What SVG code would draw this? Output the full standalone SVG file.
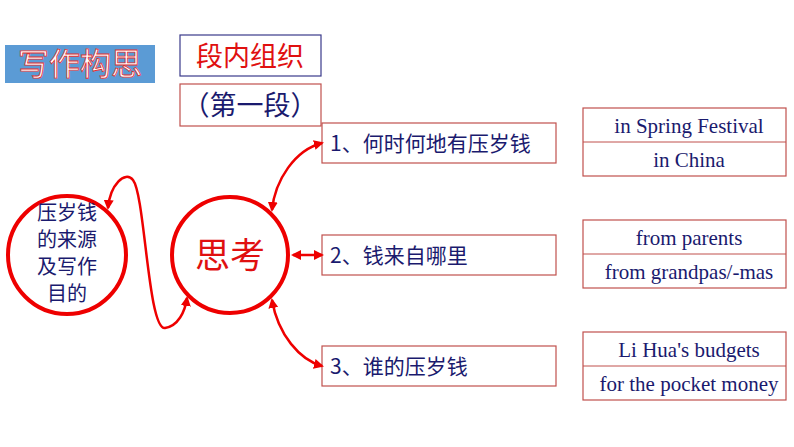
<svg xmlns="http://www.w3.org/2000/svg" width="794" height="447" viewBox="0 0 794 447">
<style>
.cn{font-family:"Noto Sans CJK SC",sans-serif}
.en{font-family:"Liberation Serif",serif;font-size:21px;fill:#1a1a6e;text-anchor:middle}
.box{fill:#fff;stroke:#c0504d;stroke-width:1.2}
.c{stroke:#e00;stroke-width:2.5;fill:none}
</style>
<defs><marker id="a" viewBox="0 0 10 10" refX="8" refY="5" markerWidth="4" markerHeight="4" orient="auto-start-reverse"><path d="M0,0L10,5L0,10z" fill="#e00"/></marker></defs>
<rect width="794" height="447" fill="#fff"/>
<g id="title"><rect x="5" y="45" width="150" height="38" fill="#5b9bd5"/><text x="80" y="75" text-anchor="middle" class="cn" font-size="31" fill="#fff" stroke="#e03030" stroke-width="0.8">写作构思</text></g>
<g id="org"><rect x="180" y="35" width="141" height="41" fill="#fff" stroke="#3a3a8a" stroke-width="1.2"/><text x="250" y="66" text-anchor="middle" class="cn" font-size="27" fill="#e01010">段内组织</text></g>
<g id="para"><rect x="180" y="84" width="141" height="42" class="box"/><text x="250" y="115" text-anchor="middle" class="cn" font-size="27" fill="#1a1a6e">（第一段）</text></g>
<g id="left"><circle cx="67" cy="255" r="59" fill="#fff" stroke="#e00" stroke-width="4"/>
<text class="cn" font-size="20" fill="#1a1a6e" text-anchor="middle"><tspan x="67" y="220">压岁钱</tspan><tspan x="67" y="247">的来源</tspan><tspan x="67" y="274">及写作</tspan><tspan x="67" y="301">目的</tspan></text></g>
<g id="think"><circle cx="230" cy="255" r="58" fill="#fff" stroke="#e00" stroke-width="4"/><text x="230" y="268" text-anchor="middle" class="cn" font-size="35" fill="#e01010">思考</text></g>
<g id="q1"><rect x="322" y="123" width="234" height="40" class="box"/><text x="330" y="151" class="cn" font-size="21" fill="#1a1a6e">1、何时何地有压岁钱</text></g>
<g id="q2"><rect x="322" y="235" width="234" height="40" class="box"/><text x="330" y="263" class="cn" font-size="21" fill="#1a1a6e">2、钱来自哪里</text></g>
<g id="q3"><rect x="322" y="346" width="234" height="40" class="box"/><text x="330" y="374" class="cn" font-size="21" fill="#1a1a6e">3、谁的压岁钱</text></g>
<g id="a1"><rect x="583" y="108" width="203" height="68" class="box"/><line x1="583" y1="142" x2="786" y2="142" stroke="#c0504d"/><text x="689" y="133" class="en">in Spring Festival</text><text x="689" y="167" class="en">in China</text></g>
<g id="a2"><rect x="583" y="220" width="203" height="68" class="box"/><line x1="583" y1="254" x2="786" y2="254" stroke="#c0504d"/><text x="689" y="245" class="en">from parents</text><text x="689" y="279" class="en">from grandpas/-mas</text></g>
<g id="a3"><rect x="583" y="332" width="203" height="68" class="box"/><line x1="583" y1="366" x2="786" y2="366" stroke="#c0504d"/><text x="689" y="357" class="en">Li Hua's budgets</text><text x="689" y="391" class="en">for the pocket money</text></g>
<g id="connectors">
<path class="c" d="M108,208 C110,185 125,170 133,180 C145,195 148,330 165,328 C178,326 185,312 187,298" marker-start="url(#a)" marker-end="url(#a)"/>
<path class="c" d="M322,143 C295,150 275,180 272,210" marker-start="url(#a)" marker-end="url(#a)"/>
<path class="c" d="M293,255 L322,255" marker-start="url(#a)" marker-end="url(#a)"/>
<path class="c" d="M272,300 C278,335 300,360 322,366" marker-start="url(#a)" marker-end="url(#a)"/>
</g>
</svg>
